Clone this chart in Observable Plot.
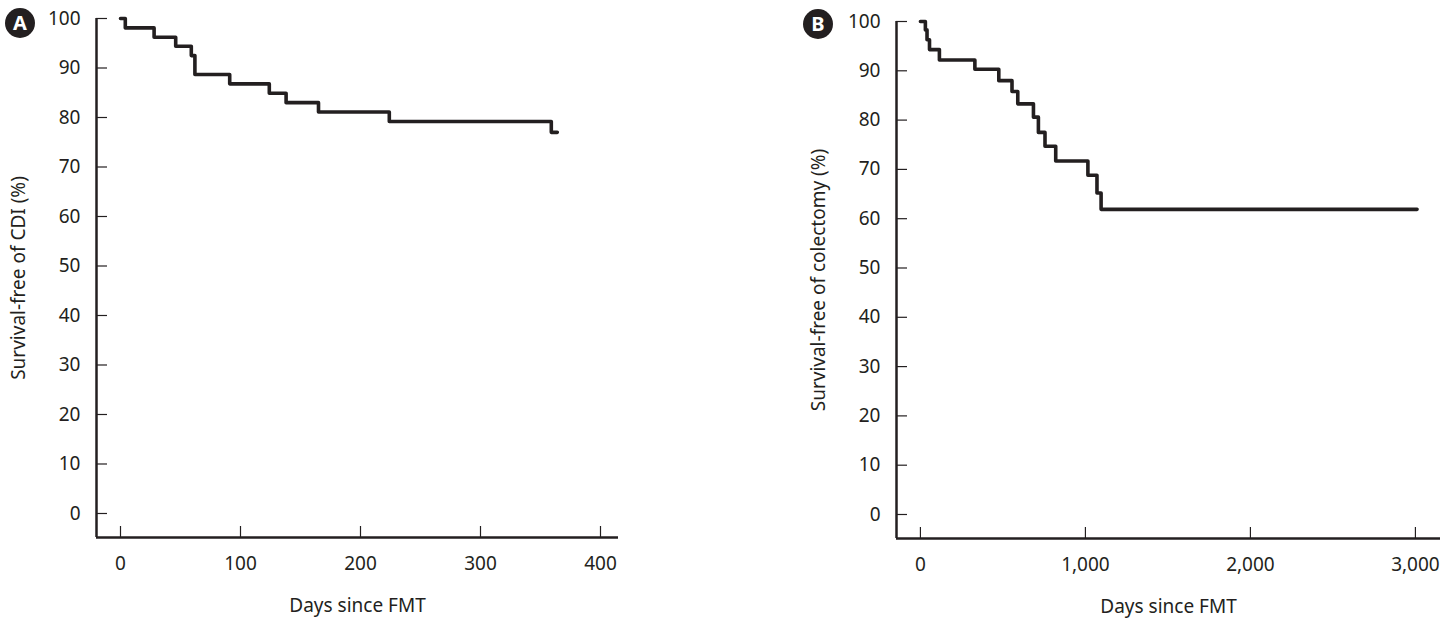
<!DOCTYPE html>
<html><head><meta charset="utf-8">
<script src="https://cdn.jsdelivr.net/npm/d3@7"></script>
<script src="https://cdn.jsdelivr.net/npm/@observablehq/plot@0.6"></script>
<style>
html,body{margin:0;padding:0;background:#fff;}
#wrap{position:relative;width:1449px;height:623px;overflow:hidden;}
.panel{position:absolute;top:0;}
.badge{position:absolute;width:30px;height:30px;border-radius:50%;background:#231f20;color:#fff;font:bold 20px "Noto Sans",sans-serif;text-align:center;line-height:30px;}
</style></head><body>
<div id="wrap">
  <div id="pA" class="panel" style="left:0"></div>
  <div id="pB" class="panel" style="left:800px"></div>
  <div class="badge" style="left:5px;top:8px">A</div>
  <div class="badge" style="left:803px;top:9px">B</div>
</div>
<script>
// Panel A: survival-free of CDI
const daysA = [0, 4, 28, 46, 59, 62, 91, 124, 138, 165, 224, 359, 364];
const survA = [100, 98.1, 96.2, 94.4, 92.5, 88.7, 86.8, 84.9, 83.0, 81.1, 79.2, 77.0, 77.0];
const xTicksA = [0, 100, 200, 300, 400];

// Panel B: survival-free of colectomy
const daysB = [0, 30, 40, 55, 115, 330, 475, 555, 590, 685, 715, 755, 820, 1015, 1070, 1095, 3010];
const survB = [100, 98.3, 96.3, 94.3, 92.2, 90.3, 88.0, 85.8, 83.3, 80.6, 77.5, 74.7, 71.7, 68.8, 65.2, 61.9, 61.9];
const xTicksB = [0, 1000, 2000, 3000];

const yTicks = [0, 10, 20, 30, 40, 50, 60, 70, 80, 90, 100];

const ink = "#231f20";

function panel({days, surv, xDomain, xTicks, xFormat, yDomain, width, marginLeft, marginRight, marginTop, marginBottom, yLabel, yLabelOffset}) {
  const data = days.map((d, i) => ({day: d, surv: surv[i]}));
  return Plot.plot({
    width, height: 623, marginLeft, marginRight, marginTop, marginBottom,
    style: {fontFamily: "'Noto Sans', sans-serif", fontSize: "19px", color: ink, background: "#fff"},
    x: {domain: xDomain},
    y: {domain: yDomain},
    marks: [
      Plot.axisY({ticks: yTicks, tickSize: 11, dx: 11, tickFormat: () => "", label: null, stroke: ink, strokeWidth: 1.2}),
      Plot.axisY({ticks: yTicks, tickSize: 0, tickPadding: 16, label: yLabel, labelAnchor: "center", labelOffset: yLabelOffset, labelArrow: "none", fill: ink}),
      Plot.axisX({ticks: xTicks, tickSize: 11, dy: -11, tickFormat: () => "", label: null, stroke: ink, strokeWidth: 1.2}),
      Plot.axisX({ticks: xTicks, tickSize: 0, tickPadding: 19, tickFormat: xFormat, label: "Days since FMT", labelAnchor: "center", labelOffset: 74, labelArrow: "none", fill: ink}),
      Plot.ruleX([xDomain[0]], {stroke: ink, strokeWidth: 2.5}),
      Plot.ruleY([yDomain[0]], {stroke: ink, strokeWidth: 2.5}),
      Plot.line(data, {x: "day", y: "surv", curve: "step-after", stroke: ink, strokeWidth: 3.6})
    ]
  });
}

document.getElementById("pA").append(panel({
  days: daysA, surv: survA, xDomain: [-20, 415], xTicks: xTicksA, xFormat: d3.format("d"),
  yDomain: [-4.85, 100], width: 640, marginLeft: 96, marginRight: 22, marginTop: 18, marginBottom: 86,
  yLabel: "Survival-free of CDI (%)", yLabelOffset: 85
}));
document.getElementById("pB").append(panel({
  days: daysB, surv: survB, xDomain: [-145, 3152], xTicks: xTicksB, xFormat: d3.format(","),
  yDomain: [-4.87, 100], width: 649, marginLeft: 96, marginRight: 9, marginTop: 21, marginBottom: 85,
  yLabel: "Survival-free of colectomy (%)", yLabelOffset: 85
}));
</script>
</body></html>
